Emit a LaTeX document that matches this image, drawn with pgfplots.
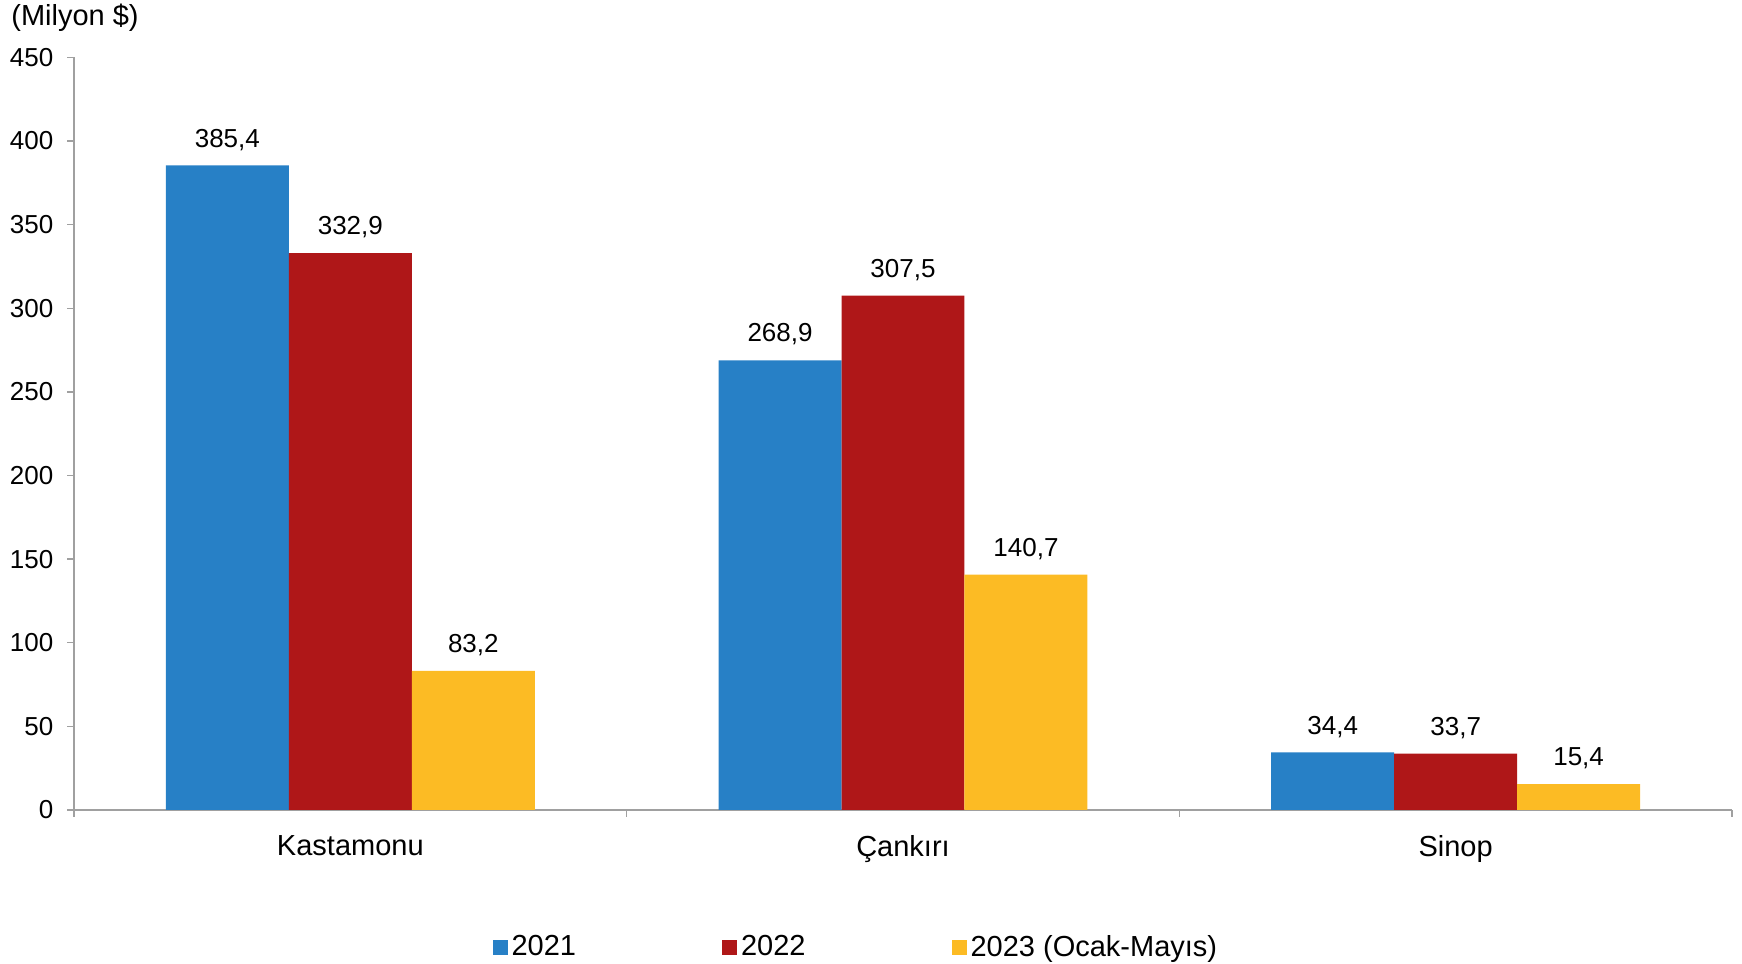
\documentclass[border=0pt]{standalone}
\usepackage{fontspec}
\setmainfont{Liberation Sans}
\usepackage{pgfplots}
\pgfplotsset{compat=1.18}
\definecolor{cb}{RGB}{39,128,198}
\definecolor{cr}{RGB}{175,23,24}
\definecolor{cy}{RGB}{252,187,36}
\definecolor{axgray}{RGB}{160,160,160}
\newcommand{\fs}{\fontsize{13}{15.5}\selectfont}
\newcommand{\fl}{\fontsize{14.5}{17}\selectfont}
\begin{document}
\begin{tikzpicture}
\path[use as bounding box] (0,0) rectangle (871pt,482pt);
\begin{axis}[
  at={(37pt,77pt)}, anchor=south west,
  scale only axis, width=829pt, height=376.3pt,
  xmin=-0.5, xmax=2.5, ymin=0, ymax=450,
  ytick={0,50,...,450},
  xtick={0,1,2}, xticklabels={Kastamonu, Çankırı, Sinop},
  major x tick style={draw=none},
  extra x ticks={-0.5,0.5,1.5,2.5}, extra x tick labels={},
  extra x tick style={major x tick style={draw=axgray, line width=0.7pt}},
  axis x line*=bottom, axis y line*=left,
  axis line style={draw=axgray, line width=0.7pt, -},
  tick style={draw=axgray, line width=0.7pt},
  tick align=outside, major tick length=3.5pt,
  yticklabel style={font=\fs, xshift=-3.3pt},
  xticklabel style={font=\fl, yshift=-5.5pt},
  /pgf/number format/assume math mode=true,
  ybar=0pt, bar width=0.2225,
  nodes near coords,
  every node near coord/.append style={font=\fs, yshift=4pt, text=black},
  nodes near coords style={/pgf/number format/.cd, fixed, precision=1, fixed zerofill, use comma, assume math mode=true},
  legend columns=3,
  legend style={draw=none, font=\fl, at={(0.2486,-0.1825)}, anchor=west,
    /tikz/every even column/.append style={column sep=71pt}},
  legend image code/.code={\fill[#1] (0pt,-3.7pt) rectangle (7.5pt,3.7pt);},
]
\addplot[fill=cb, draw=none, bar shift=-0.2225] coordinates {(0,385.4) (1,268.9) (2,34.4)};
\addplot[fill=cr, draw=none, bar shift=0] coordinates {(0,332.9) (1,307.5) (2,33.7)};
\addplot[fill=cy, draw=none, bar shift=0.2225] coordinates {(0,83.2) (1,140.7) (2,15.4)};
\legend{2021, 2022, 2023 (Ocak-Mayıs)}
\end{axis}
\node[anchor=west, font=\fl, inner sep=0pt] at (5.5pt,473pt) {(Milyon \$)};
\end{tikzpicture}
\end{document}
